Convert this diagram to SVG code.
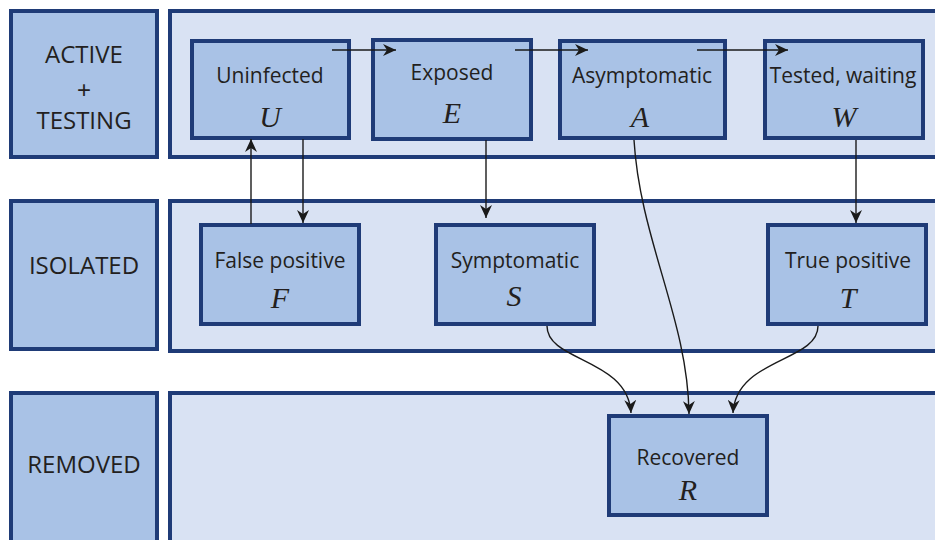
<svg xmlns="http://www.w3.org/2000/svg" width="935" height="540" viewBox="0 0 935 540">
<style>
.lab{fill:#a9c2e6;stroke:#1f3b77;stroke-width:4}
.pan{fill:#d9e2f3;stroke:#1f3b77;stroke-width:4}
.node{fill:#a9c2e6;stroke:#1f3b77;stroke-width:4}
.rt{font-family:"Open Sans","Liberation Sans",sans-serif;font-size:24px;fill:#231f20;text-anchor:middle}
.pl{font-family:"Liberation Sans",sans-serif;font-size:24px;fill:#231f20;text-anchor:middle}
.nt{font-family:"Open Sans","Liberation Sans",sans-serif;font-size:21px;fill:#231f20;text-anchor:middle}
.mt{font-family:"Liberation Serif","DejaVu Serif",serif;font-style:italic;font-size:30px;fill:#231f20;text-anchor:middle}
.c{fill:none;stroke:#1a1a1a;stroke-width:1.4}
</style>
<defs>
<marker id="ah" viewBox="0 0 13 12" markerWidth="13" markerHeight="12" refX="13" refY="6" orient="auto" markerUnits="userSpaceOnUse">
<path d="M0,0 L13,6 L0,12 L4,6 z" fill="#1a1a1a"/>
</marker>
</defs>
<rect width="935" height="540" fill="#ffffff"/>
<g id="row-active">
<rect class="lab" x="11" y="11" width="146" height="146"/>
<rect class="pan" x="170" y="11" width="800" height="146"/>
<text class="rt" x="84" y="63">ACTIVE</text>
<text class="pl" x="84" y="98">+</text>
<text class="rt" x="84" y="129">TESTING</text>
</g>
<g id="row-isolated">
<rect class="lab" x="11" y="201" width="146" height="148"/>
<rect class="pan" x="170" y="201" width="800" height="150"/>
<text class="rt" x="84" y="274">ISOLATED</text>
</g>
<g id="row-removed">
<rect class="lab" x="11" y="393" width="146" height="200"/>
<rect class="pan" x="170" y="393" width="800" height="200"/>
<text class="rt" x="84" y="473">REMOVED</text>
</g>
<g id="node-U">
<rect class="node" x="192" y="41" width="157" height="97"/>
<text class="nt" x="270" y="83">Uninfected</text>
<text class="mt" x="270" y="127">U</text>
</g>
<g id="node-E">
<rect class="node" x="373" y="40" width="158" height="99"/>
<text class="nt" x="452" y="80">Exposed</text>
<text class="mt" x="452" y="123">E</text>
</g>
<g id="node-A">
<rect class="node" x="560" y="41" width="165" height="97"/>
<text class="nt" x="642" y="83">Asymptomatic</text>
<text class="mt" x="640" y="127">A</text>
</g>
<g id="node-W">
<rect class="node" x="765" y="41" width="158" height="97"/>
<text class="nt" x="843" y="83">Tested, waiting</text>
<text class="mt" x="844" y="127">W</text>
</g>
<g id="node-F">
<rect class="node" x="201" y="225" width="158" height="99"/>
<text class="nt" x="280" y="268">False positive</text>
<text class="mt" x="280" y="308">F</text>
</g>
<g id="node-S">
<rect class="node" x="436" y="225" width="158" height="99"/>
<text class="nt" x="515" y="268">Symptomatic</text>
<text class="mt" x="514" y="306">S</text>
</g>
<g id="node-T">
<rect class="node" x="768" y="225" width="158" height="99"/>
<text class="nt" x="848" y="268">True positive</text>
<text class="mt" x="848" y="308">T</text>
</g>
<g id="node-R">
<rect class="node" x="609" y="416" width="158" height="99"/>
<text class="nt" x="688" y="465">Recovered</text>
<text class="mt" x="688" y="500">R</text>
</g>
<g id="connectors">
<path class="c" d="M332,50 H396" marker-end="url(#ah)"/>
<path class="c" d="M515,50 H588" marker-end="url(#ah)"/>
<path class="c" d="M697,50 H788" marker-end="url(#ah)"/>
<path class="c" d="M251,224 V139" marker-end="url(#ah)"/>
<path class="c" d="M303,139 V223" marker-end="url(#ah)"/>
<path class="c" d="M486,140 V218" marker-end="url(#ah)"/>
<path class="c" d="M856,140 V223" marker-end="url(#ah)"/>
<path class="c" d="M634,140 C640,240 688,320 689,414" marker-end="url(#ah)"/>
<path class="c" d="M547,326 C547,362 628,358 631,413" marker-end="url(#ah)"/>
<path class="c" d="M818,326 C818,362 736,358 733,413" marker-end="url(#ah)"/>
</g>
</svg>
